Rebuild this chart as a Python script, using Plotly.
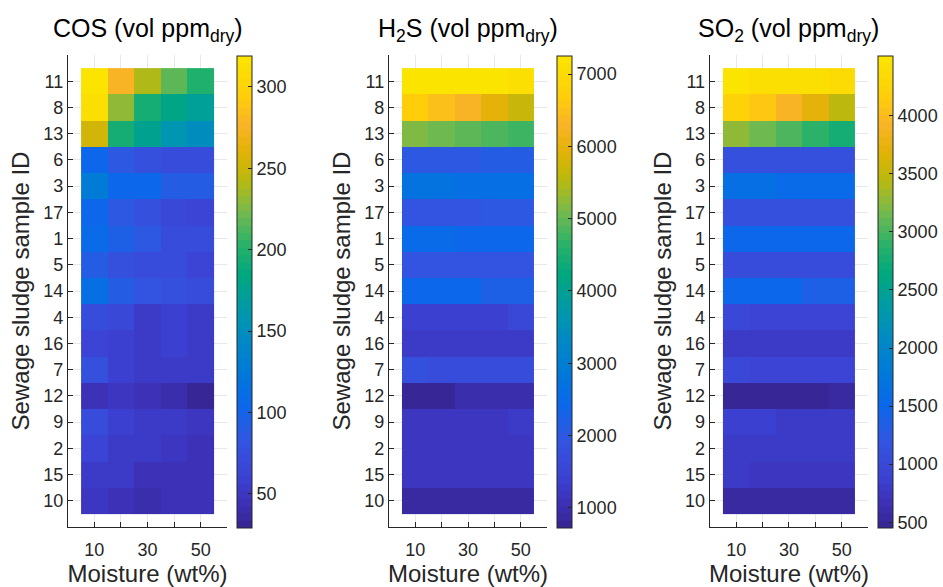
import plotly.graph_objects as go

# Sample IDs (top to bottom) and moisture levels
sample_ids = ["11", "8", "13", "6", "3", "17", "1", "5", "14",
              "4", "16", "7", "12", "9", "2", "15", "10"]
moisture = [10, 20, 30, 40, 50]
moisture_ticktext = ["10", "", "30", "", "50"]

# COS concentration (vol ppm dry), rows follow sample_ids, columns follow moisture
cos_vals = [
    [318, 278, 240, 218, 198],
    [312, 232, 193, 183, 172],
    [252, 193, 175, 160, 150],
    [103, 84, 76, 73, 70],
    [125, 106, 103, 92, 88],
    [103, 84, 76, 69, 64],
    [108, 94, 85, 74, 71],
    [88, 76, 72, 70, 64],
    [112, 90, 81, 75, 72],
    [73, 68, 56, 58, 56],
    [64, 58, 56, 57, 52],
    [78, 59, 52, 56, 54],
    [47, 50, 46, 40, 30],
    [72, 57, 56, 54, 50],
    [62, 55, 52, 48, 47],
    [56, 56, 46, 46, 46],
    [48, 46, 42, 43, 43],
]

# H2S concentration (vol ppm dry)
h2s_vals = [
    [7250, 7200, 7150, 7150, 7130],
    [6700, 6450, 6300, 5950, 5700],
    [5150, 5050, 4950, 4850, 4700],
    [1950, 1950, 1950, 2050, 2050],
    [2700, 2700, 2650, 2650, 2650],
    [1900, 1900, 1900, 1950, 1950],
    [2500, 2500, 2450, 2400, 2400],
    [1850, 1850, 1850, 1900, 1900],
    [2450, 2450, 2450, 2250, 2250],
    [1400, 1400, 1400, 1400, 1550],
    [1250, 1250, 1250, 1250, 1330],
    [1750, 1650, 1650, 1650, 1650],
    [725, 750, 950, 950, 950],
    [1200, 1200, 1200, 1200, 1300],
    [1200, 1200, 1200, 1200, 1200],
    [1150, 1150, 1150, 1150, 1150],
    [850, 850, 850, 850, 850],
]

# SO2 concentration (vol ppm dry)
so2_vals = [
    [4510, 4450, 4420, 4400, 4330],
    [4200, 4100, 3900, 3700, 3450],
    [3250, 3150, 3000, 2900, 2800],
    [1100, 1100, 1100, 1100, 1100],
    [1650, 1620, 1560, 1560, 1550],
    [1100, 1100, 1100, 1100, 1100],
    [1500, 1500, 1500, 1480, 1480],
    [1060, 1060, 1060, 1060, 1060],
    [1520, 1520, 1520, 1380, 1380],
    [960, 900, 900, 900, 900],
    [780, 780, 780, 780, 780],
    [1000, 950, 950, 950, 950],
    [455, 460, 460, 460, 560],
    [840, 840, 790, 790, 790],
    [780, 780, 780, 780, 780],
    [800, 760, 760, 760, 760],
    [520, 520, 520, 520, 520],
]

titles = ["COS (vol ppm<sub>dry</sub>)",
          "H<sub>2</sub>S (vol ppm<sub>dry</sub>)",
          "SO<sub>2</sub> (vol ppm<sub>dry</sub>)"]
zranges = [(29, 319), (720, 7250), (450, 4515)]
cbar_ticks = [[50, 100, 150, 200, 250, 300],
              [1000, 2000, 3000, 4000, 5000, 6000, 7000],
              [500, 1000, 1500, 2000, 2500, 3000, 3500, 4000]]

# Parula-style colour ramp (anchor fraction, rgb), sampled into 64 discrete bands
ramp = [
    (0.00, (55, 38, 150)),
    (0.05, (60, 50, 185)),
    (0.10, (60, 65, 210)),
    (0.18, (50, 85, 225)),
    (0.26, (10, 105, 235)),
    (0.33, (0, 122, 215)),
    (0.40, (0, 138, 195)),
    (0.47, (0, 155, 165)),
    (0.54, (0, 168, 125)),
    (0.60, (40, 178, 105)),
    (0.67, (115, 185, 80)),
    (0.74, (185, 185, 15)),
    (0.80, (225, 178, 5)),
    (0.86, (250, 180, 40)),
    (0.92, (255, 205, 10)),
    (1.00, (250, 228, 0)),
]


def ramp_color(t):
    for (t0, c0), (t1, c1) in zip(ramp[:-1], ramp[1:]):
        if t <= t1:
            f = (t - t0) / (t1 - t0)
            return tuple(round(a + (b - a) * f) for a, b in zip(c0, c1))
    return ramp[-1][1]


n = 64
colorscale = []
for i in range(n):
    c = "rgb(%d,%d,%d)" % ramp_color(i / (n - 1))
    colorscale.append([i / n, c])
    colorscale.append([(i + 1) / n, c])

W, H = 943, 587
FONT = "Liberation Sans, Arial, sans-serif"
AX = "#262626"

# pixel layout of each panel: (axis left, axis right), colorbar left
panels_px = [((68, 228), 238), ((390, 549), 559), ((712, 871), 881)]
ax_top, ax_bot = 55, 527
cb_top, cb_bot = 56, 528

fig = go.Figure()
datasets = [cos_vals, h2s_vals, so2_vals]

for k, (vals, (zmin, zmax), ticks) in enumerate(zip(datasets, zranges, cbar_ticks)):
    (xl, xr), cbx = panels_px[k]
    sfx = "" if k == 0 else str(k + 1)
    fig.add_trace(go.Heatmap(
        x=moisture, y=sample_ids, z=vals,
        zmin=zmin, zmax=zmax, colorscale=colorscale,
        xaxis="x" + sfx, yaxis="y" + sfx,
        colorbar=dict(
            x=cbx / W, xanchor="left", xpad=0, ypad=0,
            y=1 - (cb_top + cb_bot) / 2 / H, yanchor="middle",
            len=(cb_bot - cb_top) / H, lenmode="fraction",
            thickness=15, thicknessmode="pixels",
            outlinecolor=AX, outlinewidth=1,
            tickvals=ticks, ticks="inside", ticklen=4, tickcolor=AX,
            tickfont=dict(family=FONT, size=18, color=AX),
        ),
    ))
    xa = dict(
        domain=[xl / W, xr / W], anchor="y" + sfx,
        range=[0, 60], tickvals=moisture, ticktext=moisture_ticktext,
        ticks="inside", ticklen=5, tickcolor=AX, ticklabelstandoff=6,
        showline=True, linecolor=AX, linewidth=1,
        showgrid=True, gridcolor="#e8e8e8", zeroline=False,
        tickfont=dict(family=FONT, size=18, color=AX),
        title=dict(text="Moisture (wt%)", font=dict(family=FONT, size=24, color=AX), standoff=8),
    )
    ya = dict(
        domain=[1 - ax_bot / H, 1 - ax_top / H], anchor="x" + sfx,
        type="category", range=[len(sample_ids), -1],
        ticks="inside", ticklen=5, tickcolor=AX,
        showline=True, linecolor=AX, linewidth=1,
        showgrid=True, gridcolor="#e8e8e8", zeroline=False,
        tickfont=dict(family=FONT, size=18, color=AX),
        title=dict(text="Sewage sludge sample ID", font=dict(family=FONT, size=24, color=AX), standoff=6),
    )
    fig.layout["xaxis" + sfx] = xa
    fig.layout["yaxis" + sfx] = ya
    fig.add_annotation(
        text=titles[k], xref="paper", yref="paper",
        x=(xl + xr) / 2 / W, y=1 - 30 / H, xanchor="center", yanchor="middle",
        showarrow=False, font=dict(family=FONT, size=25, color="#000000"),
    )

fig.update_layout(
    width=W, height=H, margin=dict(l=0, r=0, t=0, b=0),
    paper_bgcolor="white", plot_bgcolor="white", showlegend=False,
)

fig.write_html("out.html")
